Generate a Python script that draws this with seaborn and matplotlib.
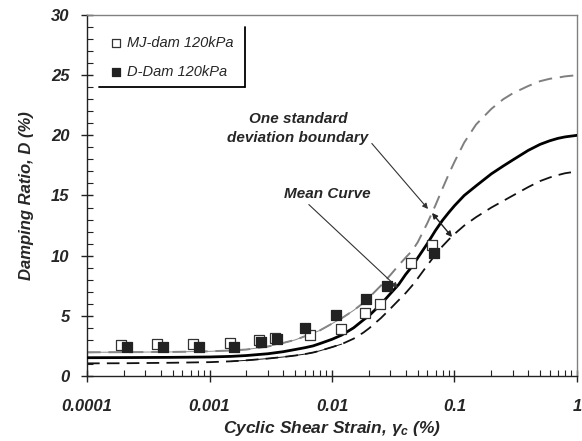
import numpy as np
import pandas as pd
import matplotlib
matplotlib.use("Agg")
import matplotlib.pyplot as plt
import seaborn as sns

# Measured damping ratios
mj_strain = [1.9e-4, 3.7e-4, 7.3e-4, 1.47e-3, 2.54e-3, 3.43e-3, 6.6e-3, 0.0118, 0.0186, 0.0246, 0.0442, 0.0655]
mj_damping = [2.58, 2.66, 2.66, 2.74, 2.99, 3.16, 3.41, 3.91, 5.24, 5.99, 9.39, 10.89]
dd_strain = [2.12e-4, 4.17e-4, 8.2e-4, 1.58e-3, 2.63e-3, 3.56e-3, 6.03e-3, 0.0108, 0.019, 0.0281, 0.068]
dd_damping = [2.41, 2.41, 2.41, 2.41, 2.83, 3.08, 3.99, 5.07, 6.40, 7.48, 10.22]

# Mean curve and one-standard-deviation bounds
curve_strain = [1e-4, 2e-4, 5e-4, 1e-3, 1.5e-3, 2e-3, 3e-3, 4e-3, 5e-3, 6e-3, 7e-3, 8e-3,
                0.01, 0.012, 0.015, 0.018, 0.02, 0.025, 0.03, 0.035, 0.04, 0.045, 0.05,
                0.06, 0.07, 0.08, 0.09, 0.1, 0.12, 0.15, 0.2, 0.25, 0.3, 0.4, 0.5, 0.6,
                0.7, 0.8, 1.0]
mean_d = [1.52, 1.53, 1.55, 1.58, 1.63, 1.70, 1.85, 2.02, 2.20, 2.35, 2.50, 2.70,
          3.05, 3.40, 4.00, 4.65, 5.00, 5.95, 6.85, 7.60, 8.45, 9.10, 9.80,
          11.0, 12.1, 12.95, 13.6, 14.15, 15.0, 15.8, 16.8, 17.45, 17.96, 18.75, 19.25, 19.55,
          19.75, 19.87, 20.0]
upper_d = [1.97, 1.98, 2.00, 2.05, 2.12, 2.20, 2.45, 2.75, 3.00, 3.30, 3.55, 3.80,
           4.35, 4.80, 5.45, 6.07, 6.50, 7.50, 8.40, 9.20, 9.85, 10.4, 11.1,
           12.7, 14.2, 15.6, 16.8, 17.8, 19.4, 20.9, 22.2, 23.0, 23.5, 24.1, 24.5, 24.7,
           24.8, 24.9, 25.0]
lower_d = [1.05, 1.06, 1.10, 1.15, 1.22, 1.30, 1.45, 1.58, 1.70, 1.82, 1.95, 2.10,
           2.40, 2.65, 3.10, 3.60, 3.95, 4.80, 5.60, 6.30, 6.90, 7.50, 8.10,
           9.20, 10.1, 10.8, 11.35, 11.8, 12.5, 13.2, 14.0, 14.55, 15.0, 15.7, 16.2, 16.5,
           16.7, 16.85, 17.0]

x_ticks = [1e-4, 1e-3, 1e-2, 1e-1, 1]
x_tick_labels = ["0.0001", "0.001", "0.01", "0.1", "1"]
y_ticks = [0, 5, 10, 15, 20, 25, 30]

curves = pd.DataFrame({"strain": curve_strain, "mean": mean_d, "upper": upper_d, "lower": lower_d})
mj = pd.DataFrame({"strain": mj_strain, "damping": mj_damping})
dd = pd.DataFrame({"strain": dd_strain, "damping": dd_damping})

sns.set_style("ticks")
plt.rcParams["font.family"] = ["Liberation Sans", "DejaVu Sans"]
plt.rcParams["mathtext.fontset"] = "custom"
plt.rcParams["mathtext.it"] = "Liberation Sans:italic:bold"
plt.rcParams["mathtext.rm"] = "Liberation Sans:bold"
plt.rcParams["mathtext.bf"] = "Liberation Sans:bold"

fig = plt.figure(figsize=(5.82, 4.41), dpi=100)
ax = fig.add_axes([0.1495, 0.1474, 0.8419, 0.8186])

# Curves
sns.lineplot(data=curves, x="strain", y="upper", ax=ax, color="#7f7f7f", lw=1.4,
             linestyle=(0, (7, 4)), zorder=2)
thin = curves[curves["strain"] <= 0.02]
sns.lineplot(data=thin, x="strain", y="upper", ax=ax, color="#8a8a8a", lw=0.7, zorder=2)
sns.lineplot(data=curves, x="strain", y="lower", ax=ax, color="#111111", lw=1.3,
             linestyle=(0, (7, 4)), zorder=2)
thin_low = curves[(curves["strain"] >= 1.5e-3) & (curves["strain"] <= 0.012)]
sns.lineplot(data=thin_low, x="strain", y="lower", ax=ax, color="#111111", lw=0.7, zorder=2)
sns.lineplot(data=curves, x="strain", y="mean", ax=ax, color="black", lw=2.0, zorder=3)

# Measured points
sns.scatterplot(data=mj, x="strain", y="damping", ax=ax, marker="s", s=58,
                facecolor="white", edgecolor="#333333", linewidth=0.9,
                label="MJ-dam 120kPa", zorder=4)
sns.scatterplot(data=dd, x="strain", y="damping", ax=ax, marker="s", s=58,
                color="#222222", edgecolor="#222222", linewidth=0.9,
                label="D-Dam 120kPa", zorder=5)

ax.set_xscale("log")
ax.set_xlim(1e-4, 1)
ax.set_ylim(0, 30)
ax.set_xticks(x_ticks)
ax.set_xticklabels(x_tick_labels)
ax.set_yticks(y_ticks)
ax.xaxis.set_minor_locator(matplotlib.ticker.LogLocator(base=10, subs=np.arange(2, 10)))
ax.xaxis.set_minor_formatter(matplotlib.ticker.NullFormatter())
ax.yaxis.set_minor_locator(matplotlib.ticker.MultipleLocator(1))

for lab in ax.get_xticklabels() + ax.get_yticklabels():
    lab.set_fontsize(12)
    lab.set_fontweight("bold")
    lab.set_fontstyle("italic")
ax.tick_params(axis="both", which="major", direction="inout", length=9, width=1.0,
               color="#222222", pad=8)
ax.tick_params(axis="x", which="major", pad=12)
ax.tick_params(axis="both", which="minor", direction="in", length=4, width=0.8, color="#222222")

for side in ["left", "bottom"]:
    ax.spines[side].set_color("#222222")
    ax.spines[side].set_linewidth(1.0)
for side in ["top", "right"]:
    ax.spines[side].set_visible(True)
    ax.spines[side].set_color("#808080")
    ax.spines[side].set_linewidth(1.0)

ax.set_xlabel(r"Cyclic Shear Strain, $\gamma_c$ (%)", fontsize=12.5, fontweight="bold",
              fontstyle="italic", labelpad=4)
ax.set_ylabel("Damping Ratio, D (%)", fontsize=12, fontweight="bold",
              fontstyle="italic", labelpad=12)

# Legend with a shadow-style frame edge
leg = ax.legend(loc="center left", bbox_to_anchor=(0.03, 0.882), frameon=False,
                handlelength=1.0, handletextpad=0.2, labelspacing=1.0, borderpad=0,
                prop=dict(size=10.5, style="italic"), markerscale=0.75)
ax.plot([0.3224, 0.3224], [0.9668, 0.8006], transform=ax.transAxes, color="black", lw=1.3, clip_on=False)
ax.plot([0.0245, 0.3224], [0.8006, 0.8006], transform=ax.transAxes, color="black", lw=1.3, clip_on=False)

# Annotations
ax.annotate("One standard\ndeviation boundary", xy=(0.0608, 13.88), xytext=(0.00527, 20.6),
            ha="center", va="center", fontsize=11, fontweight="bold", fontstyle="italic",
            linespacing=1.45,
            arrowprops=dict(arrowstyle="-|>", color="#333333", lw=0.8, mutation_scale=8,
                            shrinkA=0, shrinkB=0, relpos=(1.0, 0.15)))
ax.annotate("", xy=(0.0955, 11.55), xytext=(0.0655, 13.55),
            arrowprops=dict(arrowstyle="<|-|>", color="#222222", lw=1.0, mutation_scale=8,
                            shrinkA=0, shrinkB=0))
ax.annotate("Mean Curve", xy=(0.0346, 7.31), xytext=(0.0091, 15.1),
            ha="center", va="center", fontsize=11, fontweight="bold", fontstyle="italic",
            arrowprops=dict(arrowstyle="-|>", color="#333333", lw=0.8, mutation_scale=8,
                            shrinkA=0, shrinkB=0, relpos=(0.25, 0.0)))

fig.savefig("out.png", dpi=100)
